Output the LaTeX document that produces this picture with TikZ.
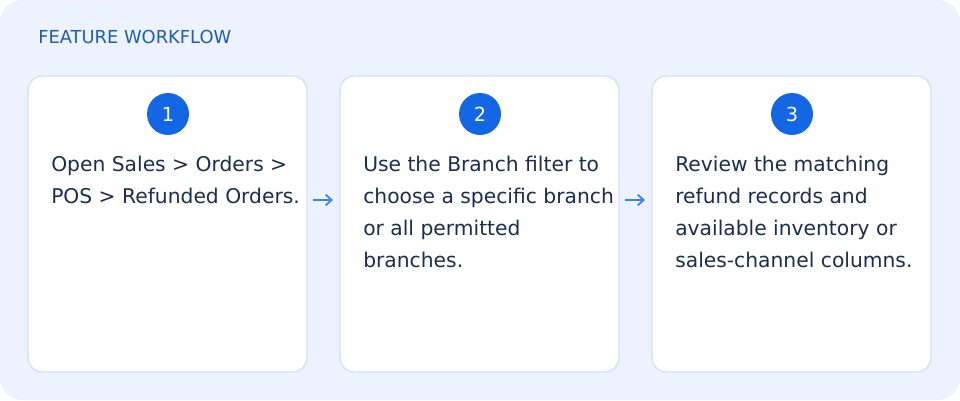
\documentclass[tikz,border=0pt]{standalone}
\usepackage{fontspec}
\setmainfont{DejaVu Sans}
\usetikzlibrary{arrows.meta}
\definecolor{bgblue}{HTML}{EDF3FE}
\definecolor{cardline}{HTML}{D3E1F6}
\definecolor{stepblue}{HTML}{1467E4}
\definecolor{titleblue}{HTML}{1F5CB5}
\definecolor{textnavy}{HTML}{1B2D52}
\definecolor{arrowblue}{HTML}{3A82F0}
\tikzset{
  card/.style={draw=cardline, line width=1.1pt, fill=white, rounded corners=10.5pt, minimum width=209.25pt, minimum height=222pt, inner sep=0pt},
  badge/.style={circle, fill=stepblue, text=white, minimum size=31.5pt, inner sep=0pt, font=\fontsize{14.5pt}{16pt}\selectfont},
  body/.style={anchor=north west, align=left, text=textnavy, inner sep=0pt, font=\fontsize{15.2pt}{24pt}\selectfont},
  flow/.style={draw=arrowblue, line width=1.3pt, -{Straight Barb[length=4.5pt,width=8pt,line width=1.3pt]}},
}
\begin{document}
\begin{tikzpicture}[x=0.75pt,y=-0.75pt]
\useasboundingbox (0,0) rectangle (960,400);
\fill[bgblue, rounded corners=16.5pt] (0,0) rectangle (960,400);
\node[anchor=west, text=titleblue, inner sep=0pt, font=\fontsize{13.4pt}{16pt}\selectfont] (title) at (38,37) {FEATURE WORKFLOW};
\node[card] (c1) at (167.5,224) {};
\node[card] (c2) at (479.5,224) {};
\node[card] (c3) at (791.5,224) {};
\node[badge] (b1) at (168,114) {1};
\node[badge] (b2) at (480,114) {2};
\node[badge] (b3) at (792,114) {3};
\node[body] (t1) at (51,156) {Open Sales > Orders >\\POS > Refunded Orders.};
\node[body] (t2) at (363,156) {Use the Branch filter to\\choose a specific branch\\or all permitted\\branches.};
\node[body] (t3) at (675,156) {Review the matching\\refund records and\\available inventory or\\sales-channel columns.};
\coordinate (a1s) at (313,200);
\coordinate (a1e) at (333,200);
\coordinate (a2s) at (625,200);
\coordinate (a2e) at (645,200);
\draw[flow] (a1s) -- (a1e);
\draw[flow] (a2s) -- (a2e);
\end{tikzpicture}
\end{document}
